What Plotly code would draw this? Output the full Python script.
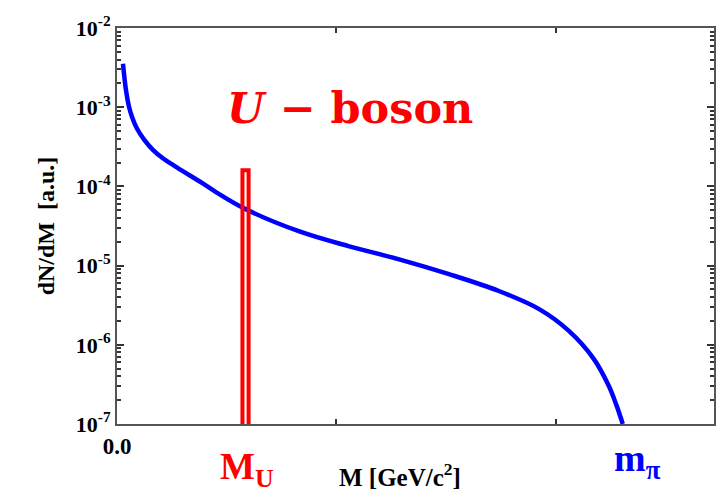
import plotly.graph_objects as go

# Dalitz-like invariant mass spectrum (arbitrary units)
mass = [0.001364, 0.002045, 0.002727, 0.003409, 0.004545, 0.006136, 0.008182,
        0.010455, 0.013636, 0.019545, 0.022727, 0.029091, 0.04159, 0.05295,
        0.06432, 0.07568, 0.08705, 0.09614, 0.10295, 0.10864, 0.11205, 0.11386,
        0.11530]
dndm = [3.54e-3, 1.64e-3, 1.02e-3, 7.60e-4, 5.38e-4, 3.93e-4, 2.90e-4,
        2.27e-4, 1.74e-4, 1.09e-4, 8.36e-5, 5.24e-5, 2.70e-5, 1.75e-5,
        1.20e-5, 7.8e-6, 4.78e-6, 2.84e-6, 1.51e-6, 6.7e-7, 3.08e-7, 1.73e-7,
        1.0e-7]

# Narrow U-boson peak drawn as a histogram bin
peak_edges = [0.0286, 0.0286, 0.0300, 0.0300]
peak_vals = [1.0e-7, 1.6e-4, 1.6e-4, 1.0e-7]

ytick_vals = [1e-7, 1e-6, 1e-5, 1e-4, 1e-3, 1e-2]
ytick_text = ["<b>10<sup>-7</sup></b>", "<b>10<sup>-6</sup></b>", "<b>10<sup>-5</sup></b>",
              "<b>10<sup>-4</sup></b>", "<b>10<sup>-3</sup></b>", "<b>10<sup>-2</sup></b>"]
xtick_vals = [0.0, 0.05, 0.10]
xtick_text = ["<b>0.0</b>", " ", " "]

axis_col = "#333333"
serif = "Liberation Serif"

fig = go.Figure()
fig.add_trace(go.Scatter(x=mass, y=dndm, mode="lines",
                         line=dict(color="#0000ff", width=4.5, shape="spline", smoothing=1.0),
                         hoverinfo="skip"))
fig.add_trace(go.Scatter(x=peak_edges, y=peak_vals, mode="lines",
                         line=dict(color="#ff0000", width=4),
                         hoverinfo="skip"))

fig.update_layout(
    width=728, height=493,
    margin=dict(l=117, r=12, t=25, b=69),
    paper_bgcolor="white", plot_bgcolor="white",
    showlegend=False,
    font=dict(family=serif, color="black"),
    xaxis=dict(range=[0, 0.1361], tickmode="array", tickvals=xtick_vals, ticktext=xtick_text,
               ticks="inside", ticklen=5, tickwidth=2, tickcolor=axis_col,
               showline=True, linecolor="#555555", linewidth=2, mirror="allticks",
               showgrid=False, zeroline=False,
               tickfont=dict(family=serif, size=23, color="black")),
    yaxis=dict(type="log", range=[-7, -2], tickmode="array", tickvals=ytick_vals, ticktext=ytick_text,
               ticks="inside", ticklen=7, tickwidth=2, tickcolor=axis_col,
               showline=True, linecolor="#555555", linewidth=2, mirror="allticks",
               showgrid=False, zeroline=False,
               tickfont=dict(family=serif, size=22, color="black"),
               minor=dict(ticks="inside", ticklen=4, dtick="D1",
                          tickwidth=1.5, tickcolor=axis_col, showgrid=False),
               title=dict(text="<b>dN/dM\u00a0\u00a0[a.u.]</b>", font=dict(family=serif, size=24),
                          standoff=14)),
)

fig.add_annotation(text="<b>M [GeV/c<sup>2</sup>]</b>", xref="paper", yref="paper",
                   x=0.474, y=-0.128, xanchor="center", yanchor="middle", showarrow=False,
                   font=dict(family=serif, size=25, color="black"))
fig.add_annotation(text="<b>M<sub>U</sub></b>", xref="paper", yref="paper",
                   x=0.218, y=-0.115, xanchor="center", yanchor="middle", showarrow=False,
                   font=dict(family=serif, size=37, color="#ff0000"))
fig.add_annotation(text="<b>m<sub>π</sub></b>", xref="paper", yref="paper",
                   x=0.872, y=-0.093, xanchor="center", yanchor="middle", showarrow=False,
                   font=dict(family=serif, size=38, color="#0000ff"))
fig.add_annotation(text="<b><i>U</i> − boson</b>", xref="paper", yref="paper",
                   x=0.39, y=0.797, xanchor="center", yanchor="middle", showarrow=False,
                   font=dict(family="DejaVu Serif", size=43, color="#ff0000"))

fig.write_html("out.html")
